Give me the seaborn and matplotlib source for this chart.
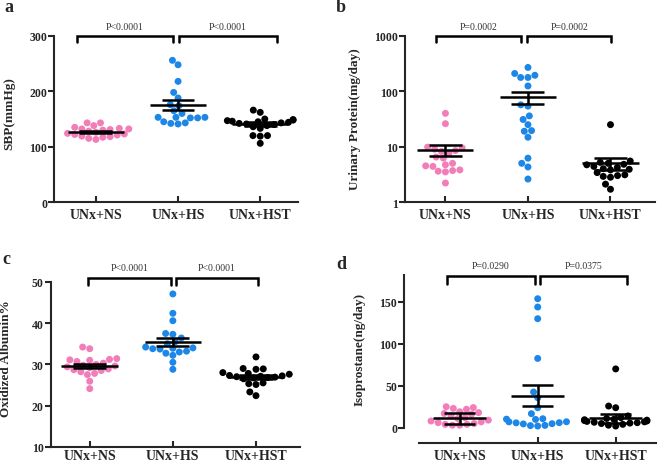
import numpy as np
import pandas as pd
import matplotlib
matplotlib.use("Agg")
import matplotlib.pyplot as plt
import matplotlib.transforms as mtransforms
import seaborn as sns

# group names and colours
groups = ["UNx+NS", "UNx+HS", "UNx+HST"]
colors = ["#F27DB9", "#1C87E6", "#000000"]

# a: systolic blood pressure (mmHg)
sbp_ns = [143, 143, 138, 135, 133, 132, 132, 131, 130, 128, 126, 124, 123, 122,
          121, 119, 118, 117, 115, 113]
sbp_hs = [256, 248, 218, 198, 188, 176, 174, 165, 160, 153, 153, 152, 153, 152,
          145, 143, 142, 141]
sbp_hst = [166, 162, 150, 149, 148, 147, 146, 145, 144, 143, 142, 141, 140, 138,
           136, 133, 120, 120, 119, 106]
sbp_mean = [126, 175, 141]
sbp_sem = [1.5, 8.5, 3.0]

# b: urinary protein (mg/day)
up_ns = [40, 26, 9.8, 9.5, 9, 8.5, 8.2, 7.5, 6.5, 6.2, 5, 4.7, 4.5, 4.4, 3.8,
         3.7, 3.6, 3.5, 2.2]
up_hs = [270, 210, 195, 178, 178, 125, 57, 54, 36, 31, 25, 19.5, 19, 14.8, 6.2,
         5, 4.3, 2.6]
up_hst = [25, 5.5, 5.2, 5.0, 4.8, 4.7, 4.4, 4.2, 4.0, 3.9, 3.8, 3.4, 3.1, 3.0,
          2.9, 2.8, 2.1, 1.7]
up_mean = [8.7, 79, 5.0]
up_sem = [2.0, 20, 1.2]

# c: oxidized albumin (%)
ox_ns = [34.2, 33.8, 31.4, 31.2, 31.1, 31.0, 30.7, 30.3, 30.0, 29.8, 29.6, 29.4,
         29.2, 28.9, 28.7, 28.5, 28.2, 27.8, 27.5, 25.9, 24.1]
ox_hs = [47.1, 42.4, 40.6, 37.5, 37.3, 36.4, 35.5, 35.0, 34.2, 34.0, 33.9, 33.8,
         33.7, 33.2, 33.0, 32.7, 32.2, 30.5, 28.8]
ox_hst = [31.8, 29.0, 28.9, 28.8, 28.0, 27.8, 27.6, 27.3, 27.2, 27.1, 27.0, 26.9,
          26.8, 26.7, 26.5, 25.5, 25.3, 25.1, 23.3, 22.4]
ox_mean = [29.6, 35.4, 27.0]
ox_sem = [0.5, 1.0, 0.5]

# d: isoprostane (ng/day)
iso_ns = [25, 24, 23, 22, 19, 18, 17, 16, 14, 12, 11, 9, 8, 7, 6, 5, 4, 4, 3, 3]
iso_hs = [153.6, 143.7, 129.8, 82.5, 42.5, 35.7, 23.8, 16.7, 10.7, 10.2, 9.9,
          7.1, 7.0, 6.0, 5.8, 4.8, 4.5, 2.8, 2.5, 2.0]
iso_hst = [70, 25.8, 23.8, 14, 12, 11, 10, 9.5, 9, 8.5, 8, 7.5, 7, 6.5, 6, 5.5,
           5, 4, 3, 2]
iso_mean = [11, 38, 11]
iso_sem = [7, 12.5, 5]

# p values
p_a = ["P<0.0001", "P<0.0001"]
p_b = ["P=0.0002", "P=0.0002"]
p_c = ["P<0.0001", "P<0.0001"]
p_d = ["P=0.0290", "P=0.0375"]


def long_df(ns, hs, hst):
    return pd.DataFrame({
        "group": [groups[0]] * len(ns) + [groups[1]] * len(hs) + [groups[2]] * len(hst),
        "value": list(ns) + list(hs) + list(hst),
    })


sns.set_style("ticks")
plt.rcParams["font.family"] = ["Liberation Serif", "DejaVu Serif"]

fig = plt.figure(figsize=(6.58, 4.64), dpi=100)

panels = [
    dict(letter="a", data=(sbp_ns, sbp_hs, sbp_hst), mean=sbp_mean, sem=sbp_sem,
         p=p_a, ylabel="SBP(mmHg)", rect=[0.0821, 0.5625, 0.3708, 0.3578],
         xlim=(-0.51, 2.46), ylim=(0, 300), yticks=[0, 100, 200, 300], log=False,
         br=[(-0.23, 0.94), (1.01, 2.20)], br_y=(0.964, 1.0, 1.055),
         lab=(-0.16, 0.536), letter_xy=(4, 8)),
    dict(letter="b", data=(up_ns, up_hs, up_hst), mean=up_mean, sem=up_sem,
         p=p_b, ylabel="Urinary Protein(mg/day)", rect=[0.6155, 0.5625, 0.380, 0.3578],
         xlim=(-0.49, 2.54), ylim=(1, 1000), yticks=[1, 10, 100, 1000], log=True,
         br=[(-0.11, 0.92), (0.99, 2.01)], br_y=(0.962, 1.0, 1.055),
         lab=(-0.176, 0.506), letter_xy=(336, 8)),
    dict(letter="c", data=(ox_ns, ox_hs, ox_hst), mean=ox_mean, sem=ox_sem,
         p=p_c, ylabel="Oxidized Albumin%", rect=[0.077, 0.0351, 0.379, 0.355],
         xlim=(-0.47, 2.53), ylim=(10, 50), yticks=[10, 20, 30, 40, 50], log=False,
         br=[(-0.02, 0.98), (1.04, 2.02)], br_y=(0.98, 1.026, 1.087),
         lab=(-0.157, 0.54), letter_xy=(2, 260)),
    dict(letter="d", data=(iso_ns, iso_hs, iso_hst), mean=iso_mean, sem=iso_sem,
         p=p_d, ylabel="Isoprostane(ng/day)", rect=[0.614, 0.0431, 0.383, 0.362],
         xlim=(-0.714, 2.517), ylim=(-18.2, 181.8), yticks=[0, 50, 100, 150], log=False,
         br=[(-0.16, 0.96), (1.03, 2.14)], br_y=(0.945, 0.994, 1.054),
         lab=(-0.151, 0.5625), letter_xy=(336, 265)),
]

for pn in panels:
    ax = fig.add_axes(pn["rect"])
    if pn["log"]:
        ax.set_yscale("log")
    df = long_df(*pn["data"])
    sns.swarmplot(data=df, x="group", y="value", hue="group", order=groups,
                  hue_order=groups, palette=colors, size=5.0, linewidth=0,
                  legend=False, ax=ax)

    # mean line and SEM bars
    for i, (m, s) in enumerate(zip(pn["mean"], pn["sem"])):
        ax.hlines(m, i - 0.34, i + 0.34, color="black", lw=1.8, zorder=5)
        ax.hlines([m - s, m + s], i - 0.2, i + 0.2, color="black", lw=1.8, zorder=5)
        ax.vlines(i, m - s, m + s, color="black", lw=1.8, zorder=5)

    ax.set_xlim(*pn["xlim"])
    ax.set_ylim(*pn["ylim"])
    ax.set_yticks(pn["yticks"])
    ax.set_yticklabels([str(t) for t in pn["yticks"]])
    ax.minorticks_off()
    ax.set_xlabel("")
    ax.set_ylabel(pn["ylabel"], fontsize=9.5, fontweight="bold")
    ax.yaxis.set_label_coords(pn["lab"][0], pn["lab"][1])

    for side in ["top", "right"]:
        ax.spines[side].set_visible(False)
    for side in ["left", "bottom"]:
        ax.spines[side].set_linewidth(1.5)
    if pn["letter"] == "d":
        ax.spines["left"].set_bounds(0, pn["ylim"][1])
        ax.spines["bottom"].set_bounds(-0.52, pn["xlim"][1])

    ax.tick_params(axis="y", direction="out", length=4, width=1.5, labelsize=8.5, pad=1)
    xpad = 1.5 if pn["letter"] == "c" else 4
    ax.tick_params(axis="x", direction="in", length=4, width=1.5, labelsize=10, pad=xpad)
    for lbl in ax.get_xticklabels() + ax.get_yticklabels():
        lbl.set_fontweight("bold")

    # significance brackets
    trans = mtransforms.blended_transform_factory(ax.transData, ax.transAxes)
    y_leg, y_top, y_txt = pn["br_y"]
    for (x1, x2), txt in zip(pn["br"], pn["p"]):
        ax.plot([x1, x1, x2, x2], [y_leg, y_top, y_top, y_leg], color="black",
                lw=1.8, transform=trans, clip_on=False, solid_joinstyle="miter")
        ax.text((x1 + x2) / 2, y_txt, txt, transform=trans, ha="center",
                va="center", fontsize=7, color="#333333")

    fig.text(pn["letter_xy"][0] / 658, 1 - pn["letter_xy"][1] / 464, pn["letter"],
             fontsize=13, fontweight="bold", ha="left", va="center")

fig.savefig("out.png", dpi=100)
